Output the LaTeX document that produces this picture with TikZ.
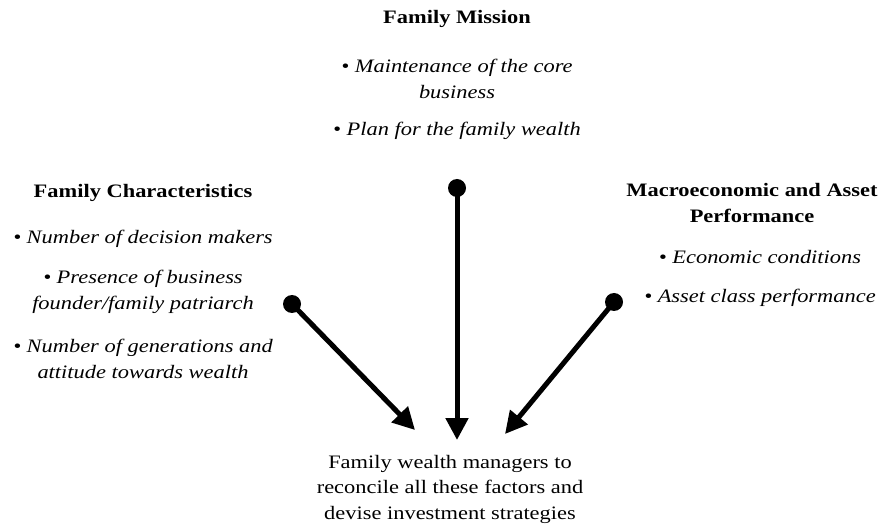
\documentclass[tikz,border=0pt]{standalone}
\usepackage{fontspec}
\setmainfont{Liberation Serif}[FakeStretch=1.18]
\usetikzlibrary{arrows.meta}

\begin{document}
\begin{tikzpicture}[x=1pt,y=-1pt,
  head/.style={font=\fontsize{19}{26}\selectfont\bfseries,align=center,inner sep=0pt},
  item/.style={font=\fontsize{19}{26}\selectfont\itshape,align=center,inner sep=0pt},
  note/.style={font=\fontsize{19}{25.5}\selectfont,align=center,inner sep=0pt},
  link/.style={line width=5pt,-{Triangle[length=22pt,width=22pt]}}]
\useasboundingbox (0,0) rectangle (888,526);
% family mission
\node[head] (mission) at (457,19) {Family Mission};
\node[item] (core) at (457,79) {\textbullet\ Maintenance of the core\\business};
\node[item] (plan) at (457,131) {\textbullet\ Plan for the family wealth};
% family characteristics
\node[head] (charac) at (143,193) {Family Characteristics};
\node[item] (makers) at (143,239) {\textbullet\ Number of decision makers};
\node[item] (founder) at (143,292) {\textbullet\ Presence of business\\founder/family patriarch};
\node[item] (gener) at (143,359) {\textbullet\ Number of generations and\\attitude towards wealth};
% macroeconomic
\node[head] (macro) at (752,203) {Macroeconomic and Asset\\Performance};
\node[item] (econ) at (760,257) {\textbullet\ Economic conditions};
\node[item] (asset) at (760,298) {\textbullet\ Asset class performance};
% managers
\node[note] (managers) at (450,489) {Family wealth managers to\\reconcile all these factors and\\devise investment strategies};
% connectors
\coordinate (dm) at (457,188);
\coordinate (dc) at (292,304);
\coordinate (dr) at (614,302);
\coordinate (em) at (457,440);
\coordinate (ec) at (415,430);
\coordinate (er) at (505,434);
\fill (dm) circle (9);
\fill (dc) circle (9);
\fill (dr) circle (9);
\draw[link] (dm) -- (em);
\draw[link] (dc) -- (ec);
\draw[link] (dr) -- (er);
\end{tikzpicture}
\end{document}
